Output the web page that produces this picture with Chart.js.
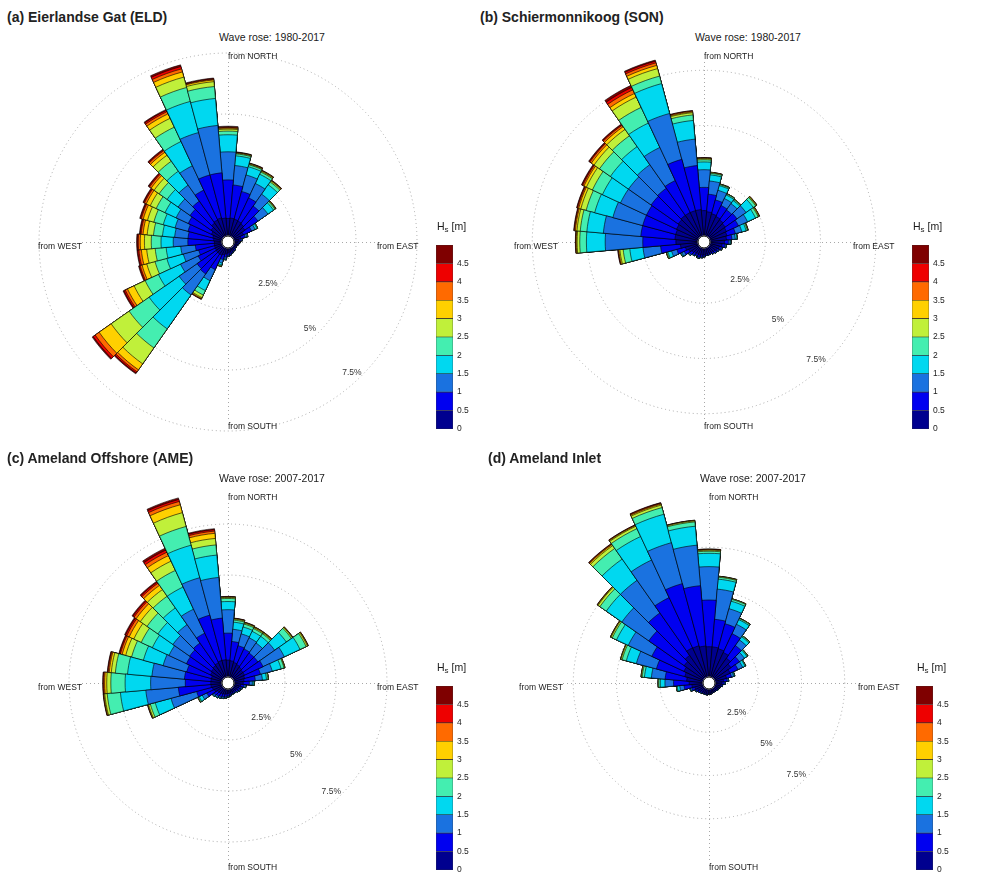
<!DOCTYPE html>
<html>
<head>
<meta charset="utf-8">
<script src="https://cdn.jsdelivr.net/npm/chart.js@4.4.1/dist/chart.umd.min.js"></script>
<style>
  body { margin: 0; background: #fff; font-family: "Liberation Sans", Arial, sans-serif; color: #1a1a1a; }
  #wrap { position: relative; width: 1008px; height: 875px; overflow: hidden; }
  .title { position: absolute; font-weight: bold; font-size: 14px; line-height: 16px; white-space: nowrap; color: #222; }
  .period { position: absolute; font-size: 10.5px; line-height: 12px; white-space: nowrap; transform: translateX(-50%); }
  .hs { position: absolute; font-size: 10.5px; line-height: 12px; white-space: nowrap; }
  .hs sub { font-size: 8px; vertical-align: -2px; }
  canvas { position: absolute; }
</style>
</head>
<body>
<div id="wrap"></div>
<script>
// direction bins (coming from), 10 degree sectors
const directions = [0,10,20,30,40,50,60,70,80,90,100,110,120,130,140,150,160,170,
                    180,190,200,210,220,230,240,250,260,270,280,290,300,310,320,330,340,350];

// Hs classes: 0-0.5, 0.5-1, ... 4-4.5, >4.5
const hsTicks = [0, 0.5, 1, 1.5, 2, 2.5, 3, 3.5, 4, 4.5];
const hsColors = ['#00008f','#0000f0','#1a72e0','#00d8f0','#44eeb0','#c0f03a','#ffd000','#ff6a00','#ee0000','#7f0000'];

// frequency of occurrence (%), one row per direction, one value per Hs class
const eldHs = [
  [.72,1.58,1.15,.70,.15,.08,.04,.03,.02,.03],
  [.74,1.36,.80,.40,.08,.03,.02,.01,.01,.01],
  [.72,1.18,.70,.35,.08,.03,.02,.01,.01,.01],
  [.70,1.05,.65,.42,.10,.04,.02,.01,.01,.01],
  [.66,.89,.60,.47,.14,.05,.02,.01,.01,.01],
  [.60,.65,.50,.28,.07,.03,.01,.01,0,.01],
  [.45,.37,.16,.08,.03,.01],
  [.30,.18,.07,.03,.02],
  [.20,.10,.04,.01],
  [.15,.07,.03],
  [.12,.06,.02],
  [.10,.04,.01],
  [.10,.04,.01],
  [.10,.04,.01],
  [.12,.06,.02],
  [.12,.06,.02],
  [.15,.07,.03],
  [.17,.09,.04],
  [.20,.10,.04,.01],
  [.25,.13,.07,.03,.01],
  [.30,.20,.15,.08,.04,.02,.01],
  [.35,.65,.50,.45,.20,.12,.04,.02,.01,.01],
  [.35,1.00,1.05,1.70,.95,.80,.30,.10,.06,.04],
  [.35,.95,.90,1.50,1.00,.90,.60,.20,.10,.05],
  [.33,.77,.80,1.00,.60,.50,.30,.10,.06,.04],
  [.33,.67,.65,.70,.50,.35,.20,.08,.04,.03],
  [.32,.78,.60,.60,.45,.35,.22,.10,.05,.03],
  [.31,1.09,.60,.50,.40,.28,.17,.08,.04,.03],
  [.35,1.05,.55,.50,.37,.26,.17,.08,.04,.03],
  [.40,1.05,.55,.50,.40,.27,.18,.08,.04,.03],
  [.50,1.05,.55,.50,.40,.27,.18,.08,.04,.03],
  [.60,1.05,.60,.55,.40,.25,.15,.08,.04,.03],
  [.70,1.10,.80,.70,.50,.30,.15,.08,.04,.03],
  [.75,1.35,1.10,1.10,.65,.40,.20,.10,.06,.04],
  [.78,1.82,1.80,1.32,.59,.44,.22,.13,.10,.07],
  [.74,1.86,1.95,1.11,.49,.20,.07,.03,.02,.03]
];

const sonHs = [
  [1.15,1.05,.80,.35,.10,.05,.02,.01,.01,.01],
  [1.10,.80,.60,.28,.07,.03,.01,.01],
  [1.05,.65,.45,.22,.05,.02,.01],
  [1.00,.55,.35,.18,.05,.01,.01],
  [.95,.55,.35,.17,.05,.02,.01],
  [.90,.65,.50,.40,.13,.04,.02,.01],
  [.85,.60,.45,.40,.13,.04,.02,.01],
  [.80,.40,.30,.20,.06,.02,.01,.01],
  [.75,.25,.15,.07,.02,.01],
  [.65,.18,.08,.03,.01],
  [.55,.13,.05,.02],
  [.45,.10,.04,.01],
  [.38,.08,.03,.01],
  [.34,.08,.03],
  [.30,.07,.03],
  [.27,.06,.02],
  [.27,.06,.02],
  [.27,.06,.02],
  [.30,.07,.03],
  [.33,.08,.03,.01],
  [.35,.10,.04,.01],
  [.32,.09,.03,.01],
  [.35,.10,.04,.01],
  [.40,.13,.05,.02],
  [.50,.22,.12,.04,.02],
  [.60,.40,.25,.17,.05,.02,.01],
  [.80,.90,.80,.60,.30,.15,.05,.02,.02,.01],
  [1.00,1.50,1.70,.85,.30,.12,.04,.02,.01,.01],
  [1.05,1.55,1.70,.75,.30,.15,.07,.04,.02,.02],
  [1.05,1.55,1.40,.85,.40,.25,.10,.05,.03,.02],
  [1.10,1.50,1.30,.90,.50,.30,.12,.06,.04,.03],
  [1.15,1.50,1.25,1.00,.60,.30,.15,.08,.04,.03],
  [1.20,1.50,1.30,1.00,.60,.35,.15,.08,.04,.03],
  [1.20,1.60,1.65,1.22,.78,.52,.18,.18,.12,.10],
  [1.20,2.40,2.15,1.40,.35,.35,.15,.12,.08,.05],
  [1.20,2.00,1.20,.85,.25,.10,.04,.03,.02,.01]
];

const ameHs = [
  [.83,1.32,1.15,.40,.15,.05,.02,.01,.01,.01],
  [.80,.95,.60,.35,.10,.05,.02,.01,.01,.01],
  [.75,.85,.60,.35,.15,.05,.02,.01,.01,.01],
  [.70,.85,.60,.35,.15,.05,.03,.01,.01],
  [.65,.85,.60,.40,.15,.05,.03,.01,.01],
  [.60,.90,1.00,.70,.30,.06,.02,.01,.01],
  [.60,1.00,1.15,.85,.33,.07,.03,.01,.01],
  [.55,.80,.60,.45,.15,.03,.02],
  [.50,.55,.35,.20,.07,.03],
  [.45,.30,.15,.07,.03],
  [.33,.17,.07,.03],
  [.26,.12,.05,.02],
  [.23,.11,.04,.02],
  [.20,.10,.04,.01],
  [.18,.08,.03,.01],
  [.18,.08,.03,.01],
  [.18,.08,.03,.01],
  [.20,.10,.04,.01],
  [.22,.12,.04,.02],
  [.25,.13,.05,.02],
  [.28,.14,.06,.02],
  [.30,.16,.06,.03],
  [.33,.17,.07,.03],
  [.35,.20,.07,.03],
  [.45,.40,.25,.17,.05,.02,.01],
  [.50,.80,1.30,.80,.25,.09,.03,.01,.01,.01],
  [.55,1.60,1.60,1.25,.65,.12,.04,.02,.01,.01],
  [.55,1.25,1.70,1.25,.70,.20,.10,.05,.03,.02],
  [.55,1.30,1.60,1.20,.60,.20,.10,.05,.03,.02],
  [.55,1.25,1.20,1.00,.60,.30,.18,.09,.05,.03],
  [.65,1.30,.95,.90,.60,.40,.25,.13,.07,.05],
  [.70,1.30,1.00,.90,.65,.40,.25,.13,.07,.05],
  [.75,1.35,1.10,1.00,.70,.40,.25,.13,.07,.05],
  [.80,1.60,1.30,1.20,.90,.50,.30,.18,.12,.10],
  [.85,2.30,1.90,1.65,.95,.70,.40,.17,.10,.08],
  [.85,2.05,2.00,1.10,.50,.32,.25,.11,.07,.05]
];

const ainHs = [
  [1.75,2.70,1.93,.77,.12,.06,.03,.02,.01,.01],
  [1.75,1.60,1.75,.58,.11,.04,.01,.01],
  [1.70,1.50,.90,.45,.11,.03,.01],
  [1.60,1.20,.60,.30,.07,.02,.01],
  [1.40,.90,.40,.22,.06,.02],
  [1.20,.60,.35,.18,.05,.02],
  [1.00,.50,.30,.15,.04,.01],
  [.70,.30,.13,.05,.02],
  [.50,.20,.07,.03],
  [.40,.13,.05,.02],
  [.32,.09,.03,.01],
  [.26,.06,.02,.01],
  [.22,.05,.02,.01],
  [.22,.05,.02,.01],
  [.19,.04,.02],
  [.19,.04,.02],
  [.19,.04,.02],
  [.22,.05,.02,.01],
  [.22,.05,.02,.01],
  [.26,.06,.02,.01],
  [.26,.06,.02,.01],
  [.26,.06,.02,.01],
  [.29,.07,.03,.01],
  [.33,.09,.02,.01],
  [.40,.10,.04,.01],
  [.50,.18,.08,.03,.01],
  [.65,.45,.25,.15,.04,.01],
  [.80,.90,.50,.27,.09,.03,.01],
  [.95,1.25,.80,.40,.13,.05,.01,.01],
  [1.10,1.70,1.20,.60,.25,.07,.02,.01],
  [1.25,2.05,1.50,.75,.27,.08,.03,.01,.01],
  [1.40,2.50,1.90,1.10,.45,.13,.04,.01,.01,.01],
  [1.60,3.00,2.30,1.50,.75,.20,.07,.04,.02,.02],
  [1.90,3.20,2.40,1.50,.50,.15,.05,.02,.02,.01],
  [1.88,3.72,2.45,1.70,.40,.15,.06,.04,.03,.02],
  [1.80,3.50,2.35,1.10,.25,.06,.02,.01,.01]
];

const rings = [2.5, 5, 7.5];

// panel placement (pixels) and radial scale (px per %)
const panels = [
  { title: '(a) Eierlandse Gat (ELD)', period: 'Wave rose: 1980-2017', rows: eldHs, cx: 228, cy: 242, k: 24.4, tx: 7,   ty: 9,   cbx: 436 },
  { title: '(b) Schiermonnikoog (SON)', period: 'Wave rose: 1980-2017', rows: sonHs, cx: 704, cy: 242, k: 22.1, tx: 480, ty: 9,   cbx: 912 },
  { title: '(c) Ameland Offshore (AME)', period: 'Wave rose: 2007-2017', rows: ameHs, cx: 228, cy: 683, k: 20.4, tx: 7,   ty: 450, cbx: 436 },
  { title: '(d) Ameland Inlet',          period: 'Wave rose: 2007-2017', rows: ainHs, cx: 709, cy: 683, k: 17.3, tx: 488, ty: 450, cbx: 916 }
];

const HOLE = 6, RADIUS = 190, PAD = 30;
const wrap = document.getElementById('wrap');
Chart.defaults.font.family = '"Liberation Sans", Arial, sans-serif';

// stack the classes: class i radius = sum of classes 0..i
function stackRows(rows) {
  const out = hsColors.map(() => []);
  rows.forEach(row => {
    let s = 0;
    for (let i = 0; i < hsColors.length; i++) {
      s += row[i] || 0;
      out[i].push(Math.round(s * 1000) / 1000);
    }
  });
  return out;
}

const roseDecor = {
  id: 'roseDecor',
  beforeDatasetsDraw(chart) {
    const s = chart.scales.r, ctx = chart.ctx;
    const x = s.xCenter, y = s.yCenter;
    ctx.save();
    ctx.strokeStyle = '#a8a8a8';
    ctx.lineWidth = 1;
    ctx.setLineDash([1, 3]);
    ctx.beginPath();
    ctx.moveTo(x - 146, y + 0.5); ctx.lineTo(x + 147, y + 0.5);
    ctx.moveTo(x + 0.5, y - 180); ctx.lineTo(x + 0.5, y + 180);
    ctx.stroke();
    ctx.restore();
  },
  afterDatasetsDraw(chart) {
    const s = chart.scales.r, ctx = chart.ctx;
    const x = s.xCenter, y = s.yCenter;
    ctx.save();
    ctx.strokeStyle = '#000';
    ctx.lineWidth = 1;
    ctx.beginPath();
    ctx.arc(x, y, s.getDistanceFromCenterForValue(0), 0, Math.PI * 2);
    ctx.stroke();

    ctx.fillStyle = '#1a1a1a';
    ctx.font = '8.5px "Liberation Sans", Arial, sans-serif';
    ctx.textBaseline = 'middle';
    ctx.textAlign = 'left';
    ctx.fillText('from NORTH', x, y - 185);
    ctx.fillText('from SOUTH', x, y + 185);
    ctx.fillText('from EAST', x + 149, y + 5);
    ctx.textAlign = 'right';
    ctx.fillText('from WEST', x - 146, y + 5);

    ctx.textAlign = 'center';
    ctx.fillStyle = '#333';
    const a = 46.5 * Math.PI / 180;
    rings.forEach(v => {
      const d = s.getDistanceFromCenterForValue(v) - 9;
      ctx.fillText(v + '%', x + d * Math.cos(a), y + d * Math.sin(a));
    });
    ctx.restore();
  }
};

panels.forEach(p => {
  const t = document.createElement('div');
  t.className = 'title';
  t.style.left = p.tx + 'px'; t.style.top = p.ty + 'px';
  t.textContent = p.title;
  wrap.appendChild(t);

  const w = document.createElement('div');
  w.className = 'period';
  w.style.left = (p.cx + 44) + 'px'; w.style.top = (p.cy - 211) + 'px';
  w.textContent = p.period;
  wrap.appendChild(w);

  // rose
  const size = 2 * (RADIUS + PAD);
  const c = document.createElement('canvas');
  c.width = size; c.height = size;
  c.style.left = (p.cx - size / 2) + 'px'; c.style.top = (p.cy - size / 2) + 'px';
  c.style.width = size + 'px'; c.style.height = size + 'px';
  wrap.appendChild(c);

  const rmin = -HOLE / p.k;
  const stacked = stackRows(p.rows);
  const datasets = [{
    data: directions.map(() => 0),
    backgroundColor: '#fff', borderColor: '#fff', borderWidth: 1
  }];
  stacked.forEach((d, i) => datasets.push({
    data: d, backgroundColor: hsColors[i], borderColor: '#000', borderWidth: 0.6
  }));

  new Chart(c, {
    type: 'polarArea',
    data: { labels: directions.map(d => d + '°'), datasets },
    options: {
      responsive: false,
      animation: false,
      events: [],
      layout: { padding: PAD },
      plugins: { legend: { display: false }, tooltip: { enabled: false } },
      scales: {
        r: {
          min: rmin,
          max: rmin + RADIUS / p.k,
          startAngle: -5,
          ticks: { display: false },
          pointLabels: { display: false },
          angleLines: { display: false },
          grid: { circular: true, color: '#a8a8a8', lineWidth: 1 },
          border: { dash: [1, 3] },
          afterBuildTicks: s => { s.ticks = rings.map(v => ({ value: v })); }
        }
      }
    },
    plugins: [roseDecor]
  });

  // colour bar
  const h = document.createElement('div');
  h.className = 'hs';
  h.style.left = (p.cbx + 1) + 'px'; h.style.top = (p.cy - 22) + 'px';
  h.innerHTML = 'H<sub>s</sub> [m]';
  wrap.appendChild(h);

  const cb = document.createElement('canvas');
  cb.width = 47; cb.height = 202;
  cb.style.left = p.cbx + 'px'; cb.style.top = (p.cy - 6) + 'px';
  cb.style.width = '47px'; cb.style.height = '202px';
  wrap.appendChild(cb);

  new Chart(cb, {
    type: 'bar',
    data: {
      labels: [''],
      datasets: hsColors.map((col, i) => ({
        data: [0.5], backgroundColor: col, borderColor: '#333', borderWidth: 0.6,
        borderSkipped: false, categoryPercentage: 1, barPercentage: 1
      }))
    },
    options: {
      responsive: false,
      animation: false,
      events: [],
      layout: { padding: { top: 6, bottom: 6, left: 0, right: 0 } },
      plugins: { legend: { display: false }, tooltip: { enabled: false } },
      scales: {
        x: { display: false, stacked: true },
        y: {
          stacked: true, position: 'right', min: 0, max: 5,
          grid: { display: false, drawTicks: false },
          border: { display: false },
          afterBuildTicks: s => { s.ticks = hsTicks.map(v => ({ value: v })); },
          afterFit: s => { s.width = 30; },
          ticks: { padding: 4, color: '#222', font: { size: 8.5 }, callback: v => String(v) }
        }
      }
    }
  });
});
</script>
</body>
</html>
